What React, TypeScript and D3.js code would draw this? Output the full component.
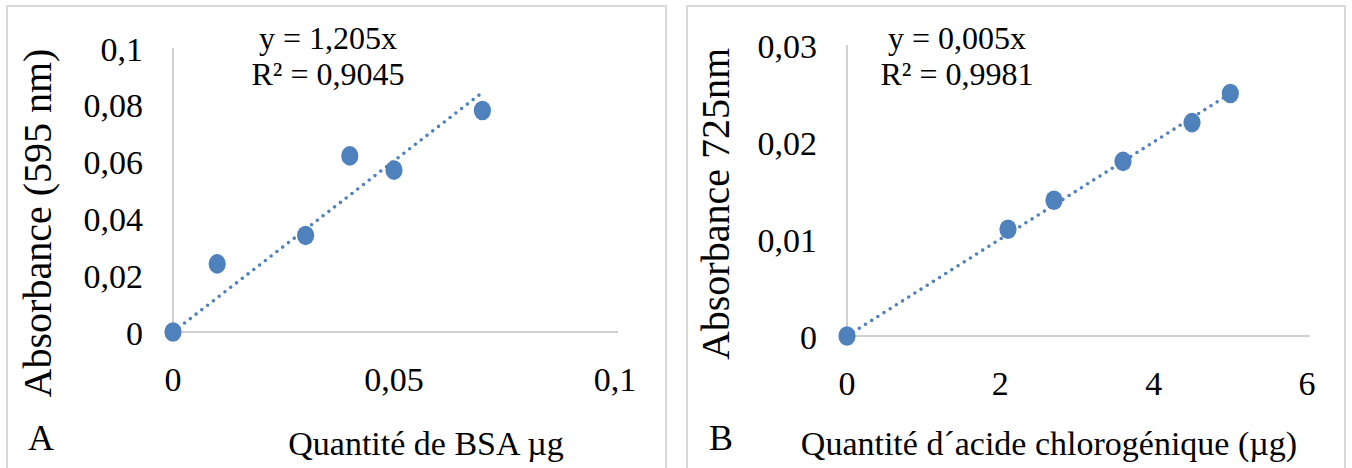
import React from "react";
import * as d3 from "d3";

// Panel A: BSA calibration
const bsaQty = [0, 0.01, 0.03, 0.04, 0.05, 0.07];
const bsaAbs = [0, 0.024, 0.034, 0.062, 0.057, 0.078];
const bsaXTicks = [0, 0.05, 0.1];
const bsaYTicks = [0, 0.02, 0.04, 0.06, 0.08, 0.1];
const bsaSlope = 1.205;
const bsaR2 = "0,9045";

// Panel B: chlorogenic acid calibration
const cgaQty = [0, 2.1, 2.7, 3.6, 4.5, 5];
const cgaAbs = [0, 0.011, 0.014, 0.018, 0.022, 0.025];
const cgaXTicks = [0, 2, 4, 6];
const cgaYTicks = [0, 0.01, 0.02, 0.03];
const cgaSlope = 0.005;
const cgaR2 = "0,9981";

const FONT = "Liberation Serif, DejaVu Serif, serif";
const BLUE = "#4f81bd";
const GRID = "#d0d0d0";

const fmt = (v: number) => String(v).replace(".", ",");

type PanelProps = {
  box: [number, number];
  xs: number[];
  ys: number[];
  xTicks: number[];
  yTicks: number[];
  xDomain: [number, number];
  yDomain: [number, number];
  xRange: [number, number];
  yRange: [number, number];
  slope: number;
  r2: string;
  yTitle: string;
  yTitleX: number;
  yTitleY: number;
  xTitle: string;
  xTitleX: number;
  letter: string;
  letterX: number;
  eqX: number;
};

const txt = (size: number): React.CSSProperties => ({
  fontFamily: FONT,
  fontSize: size + "px",
});

function Panel(p: PanelProps) {
  const x = d3.scaleLinear().domain(p.xDomain).range(p.xRange);
  const y = d3.scaleLinear().domain(p.yDomain).range(p.yRange);
  const xMax = d3.max(p.xs) as number;
  const trend = d3
    .line<number>()
    .x((d) => x(d))
    .y((d) => y(p.slope * d))([0, xMax]);
  const y0 = y(0);
  const x0 = x(0);
  return (
    <g>
      <rect
        x={p.box[0]}
        y={6}
        width={p.box[1] - p.box[0]}
        height={480}
        fill="#fff"
        stroke="#d9d9d9"
        strokeWidth={2}
      />
      {/* axes */}
      <line x1={x0} x2={x0} y1={y(p.yDomain[1])} y2={y0} stroke={GRID} strokeWidth={2} />
      <line x1={x0} x2={x(p.xDomain[1]) + 3} y1={y0} y2={y0} stroke={GRID} strokeWidth={2} />
      {/* y ticks */}
      {p.yTicks.map((t) => (
        <text key={"y" + t} x={x0 - 30} y={y(t) + 12.5} textAnchor="end" style={txt(34)} fill="#000">
          {fmt(t)}
        </text>
      ))}
      {/* x ticks */}
      {p.xTicks.map((t) => (
        <text key={"x" + t} x={x(t)} y={y0 + 59} textAnchor="middle" style={txt(34)} fill="#000">
          {fmt(t)}
        </text>
      ))}
      {/* trend line */}
      <path
        d={trend || ""}
        fill="none"
        stroke={BLUE}
        strokeWidth={3.6}
        strokeDasharray="0 7.3"
        strokeLinecap="round"
      />
      {/* points */}
      {p.xs.map((v, i) => (
        <ellipse key={i} cx={x(v)} cy={y(p.ys[i])} rx={8.6} ry={9.8} fill={BLUE} />
      ))}
      {/* equation */}
      <text x={p.eqX} y={49} textAnchor="middle" style={txt(32)}>
        {"y = " + fmt(p.slope) + "x"}
      </text>
      <text x={p.eqX} y={85} textAnchor="middle" style={txt(32)}>
        {"R² = " + p.r2}
      </text>
      {/* axis titles */}
      <text
        transform={`translate(${p.yTitleX},${p.yTitleY}) rotate(-90)`}
        textAnchor="middle"
        style={txt(40)}
      >
        {p.yTitle}
      </text>
      <text x={p.xTitleX} y={455} textAnchor="middle" style={txt(34)}>
        {p.xTitle}
      </text>
      <text x={p.letterX} y={450} textAnchor="start" style={txt(36)}>
        {p.letter}
      </text>
    </g>
  );
}

export default function App() {
  return (
    <svg
      width={1352}
      height={468}
      style={{ position: "absolute", left: 0, top: 0, background: "#fff" }}
    >
      <rect x={0} y={0} width={1352} height={468} fill="#fff" />
      <Panel
        box={[7, 666]}
        xs={bsaQty}
        ys={bsaAbs}
        xTicks={bsaXTicks}
        yTicks={bsaYTicks}
        xDomain={[0, 0.1]}
        yDomain={[0, 0.1]}
        xRange={[173, 615]}
        yRange={[332, 48]}
        slope={bsaSlope}
        r2={bsaR2}
        yTitle="Absorbance (595 nm)"
        yTitleX={51}
        yTitleY={223}
        xTitle="Quantité de BSA µg"
        xTitleX={426}
        letter="A"
        letterX={28}
        eqX={328}
      />
      <Panel
        box={[687, 1345]}
        xs={cgaQty}
        ys={cgaAbs}
        xTicks={cgaXTicks}
        yTicks={cgaYTicks}
        xDomain={[0, 6]}
        yDomain={[0, 0.03]}
        xRange={[847, 1307]}
        yRange={[336, 45]}
        slope={cgaSlope}
        r2={cgaR2}
        yTitle="Absorbance 725nm"
        yTitleX={729}
        yTitleY={204}
        xTitle="Quantité d´acide chlorogénique (µg)"
        xTitleX={1049}
        letter="B"
        letterX={709}
        eqX={957}
      />
    </svg>
  );
}
